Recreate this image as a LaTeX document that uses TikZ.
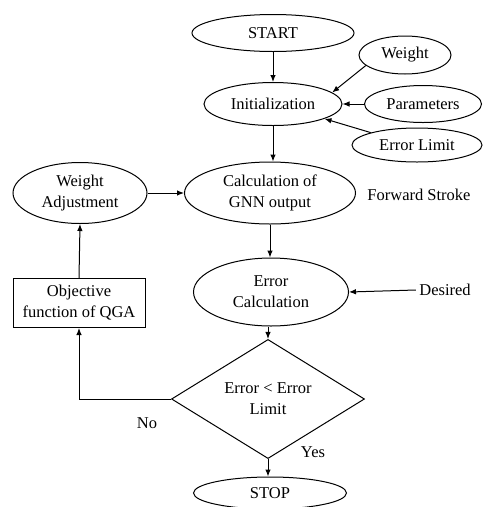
\documentclass[tikz,border=0pt]{standalone}
\usepackage{fontspec}
\setmainfont{Liberation Serif}
\usetikzlibrary{shapes.geometric,arrows.meta}
\begin{document}
\begin{tikzpicture}[x=1pt,y=-1pt,
  every node/.style={font=\fontsize{16.5}{21}\selectfont, align=center, text=black},
  oval/.style={draw, ellipse, inner sep=0pt, line width=1pt},
  boxnode/.style={draw, rectangle, inner sep=0pt, line width=1pt},
  decide/.style={draw, diamond, inner sep=0pt, line width=1pt},
  arr/.style={draw, line width=1pt, -{Latex[length=7pt,width=5.5pt]}}]
\useasboundingbox (0,0) rectangle (483,507);
\begin{scope}
\clip (0,0) rectangle (483,507);
\node[oval, minimum width=162pt, minimum height=37pt] (start) at (273,33) {START};
\node[oval, minimum width=138pt, minimum height=43pt] (init) at (273,104) {Initialization};
\node[oval, minimum width=92pt, minimum height=38pt] (weight) at (405,55) {Weight};
\node[oval, minimum width=117pt, minimum height=37pt] (param) at (423,104) {Parameters};
\node[oval, minimum width=130pt, minimum height=34pt] (errlim) at (417,145) {Error Limit};
\node[oval, minimum width=171pt, minimum height=62pt] (calc) at (270,193) {Calculation of\\GNN output};
\node[oval, minimum width=134pt, minimum height=61pt] (wa) at (80,193) {Weight\\Adjustment};
\node (fs) at (419,195) {Forward Stroke};
\node[oval, minimum width=155pt, minimum height=68pt] (err) at (271,292) {Error\\Calculation};
\node (des) at (445,290) {Desired};
\node[boxnode, minimum width=132pt, minimum height=49pt] (obj) at (79,303) {Objective\\function of QGA};
\node[decide, minimum width=193pt, minimum height=76pt] (dia) at (268,399) {Error {\fontspec{Liberation Serif}<} Error\\Limit};
\node (no) at (147,423) {No};
\node (yes) at (313,452) {Yes};
\node[oval, minimum width=153pt, minimum height=32pt] (stop) at (270,493) {STOP};
\end{scope}
\draw[arr] (start.south) -- (start.south |- init.north);
\draw[arr] (weight.195) -- (init.11);
\draw[arr] (param.west) -- (init.east);
\draw[arr] (errlim.165) -- (init.-16);
\draw[arr] (init.south) -- (init.south |- calc.north);
\draw[arr] (wa.east) -- (calc.west);
\draw[arr] (calc.south) -- (calc.south |- err.north);
\draw[arr] (des.west) -- (err.east);
\draw[arr] (err.south -| dia.north) -- (dia.north);
\draw[arr] (dia.south) -- (dia.south |- stop.north);
\draw[arr] (dia.west) -| (obj.south);
\draw[arr] (obj.north) -- (wa.south);
\end{tikzpicture}
\end{document}
